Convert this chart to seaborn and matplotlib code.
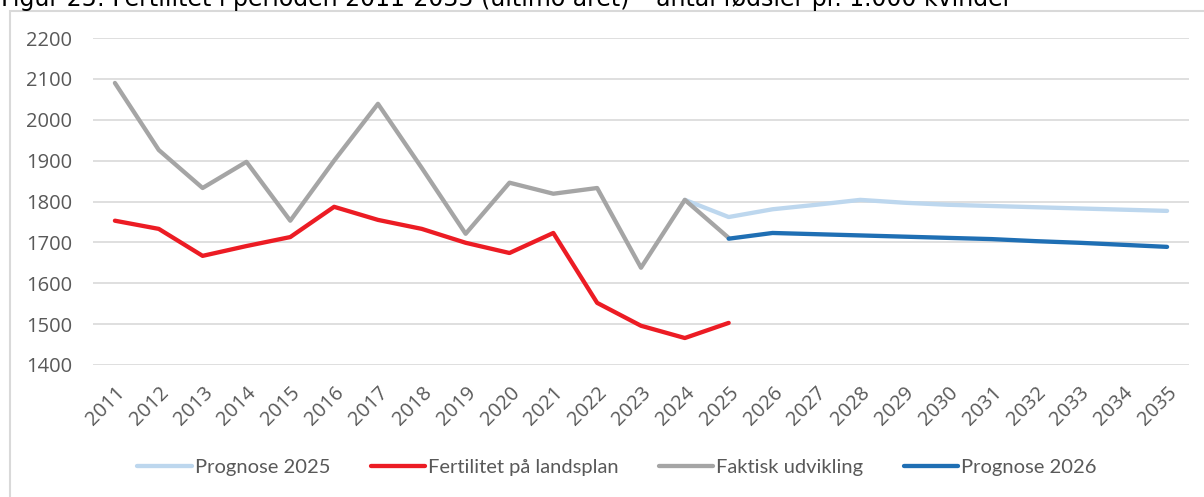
import pandas as pd
import matplotlib.pyplot as plt
from matplotlib.patches import Rectangle
import seaborn as sns

# Data
years_actual = list(range(2011, 2026))
faktisk = [2090, 1926, 1833, 1897, 1753, 1900, 2039, 1882, 1721, 1846, 1819, 1833, 1638, 1804, 1711]
landsplan = [1753, 1733, 1667, 1691, 1713, 1787, 1755, 1733, 1699, 1674, 1723, 1552, 1496, 1466, 1503]

years_p25 = list(range(2024, 2036))
prognose_2025 = [1804, 1762, 1781, 1792, 1804, 1797, 1792, 1789, 1786, 1783, 1780, 1777]

years_p26 = list(range(2025, 2036))
prognose_2026 = [1709, 1723, 1720, 1717, 1714, 1711, 1708, 1703, 1699, 1694, 1689]

series_order = ["Prognose 2025", "Fertilitet på landsplan", "Faktisk udvikling", "Prognose 2026"]
colors = ["#bdd7ee", "#ec1c24", "#a5a5a5", "#1f6fb4"]

df = pd.concat([
    pd.DataFrame({"År": years_p25, "Værdi": prognose_2025, "Serie": "Prognose 2025"}),
    pd.DataFrame({"År": years_actual, "Værdi": landsplan, "Serie": "Fertilitet på landsplan"}),
    pd.DataFrame({"År": years_actual, "Værdi": faktisk, "Serie": "Faktisk udvikling"}),
    pd.DataFrame({"År": years_p26, "Værdi": prognose_2026, "Serie": "Prognose 2026"}),
])

sns.set_style("white")
plt.rcParams['font.family'] = ['Open Sans', 'DejaVu Sans']

fig = plt.figure(figsize=(12.04, 4.97), dpi=100)
ax = fig.add_axes([93 / 1204, 1 - 365 / 497, (1189 - 93) / 1204, (365 - 38) / 497])

sns.lineplot(data=df, x="År", y="Værdi", hue="Serie", hue_order=series_order,
             palette=colors, linewidth=3.1, ax=ax, legend=True, zorder=3)

ax.set_xlim(2010.5, 2035.5)
ax.set_ylim(1400, 2200)
ax.set_yticks(range(1400, 2201, 100))
ax.set_xticks(range(2011, 2036))
ax.set_xticklabels([str(y) for y in range(2011, 2036)], rotation=45, ha='right',
                   rotation_mode='anchor')
ax.tick_params(axis='both', labelsize=14.5, colors='#595959', length=0)
ax.tick_params(axis='x', pad=13)
ax.tick_params(axis='y', pad=15)
ax.set_xlabel("")
ax.set_ylabel("")
ax.grid(axis='y', color='#d9d9d9', linewidth=1.2)
ax.set_axisbelow(True)
for s in ax.spines.values():
    s.set_visible(False)

handles, labels = ax.get_legend_handles_labels()
ax.legend(handles, labels, loc='center', bbox_to_anchor=(617 / 1204, 1 - 467 / 497),
          bbox_transform=fig.transFigure, ncol=4, frameon=False,
          prop={'family': ['Lato', 'DejaVu Sans'], 'size': 14.5},
          handlelength=2.7, handletextpad=0.15, columnspacing=2.0, labelcolor='#595959')

# chart frame and clipped title, as in the reference screenshot
fig.add_artist(Rectangle((10 / 1204, -0.1), 1.2, 1.1 - 11 / 497, fill=False,
                         ec='#d9d9d9', lw=1.5, transform=fig.transFigure))
fig.text(0.001, 1 - 6 / 497, "Figur 25: Fertilitet i perioden 2011-2035 (ultimo året) – antal fødsler pr. 1.000 kvinder",
         ha='left', va='baseline', fontsize=17, color='black', family='DejaVu Sans')

fig.savefig("out.png", dpi=100)
